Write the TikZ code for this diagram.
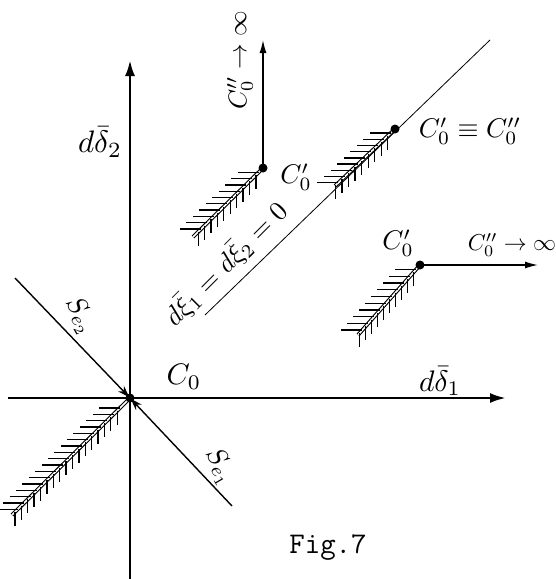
\documentclass[tikz,border=0pt]{standalone}
\usetikzlibrary{calc,arrows.meta}
\newcommand\hatchedline[3]{%
  \draw[bound] (#1) -- (#2);
  \foreach \s [evaluate=\s as \e using \s+4] in {#3} {
    \draw[hatchtick] ($(#1)!\s pt!(#2)$) -- ++(-21,0);
    \draw[hatchtick] ($(#1)!\e pt!(#2)$) -- ++(0,14);
  }%
}
\begin{document}
\begin{tikzpicture}[x=1pt,y=-1pt,
  axis/.style={line width=2.6pt,-{Latex[length=16pt,width=10pt]}},
  bound/.style={double, double distance=1.6pt, line width=1.1pt},
  hatchtick/.style={line width=1.3pt},
  ray/.style={line width=1.4pt,-{Latex[length=13pt,width=7pt]}},
  sline/.style={line width=1.4pt,-{Stealth[length=12pt,width=8pt]},shorten >=1pt},
  dot/.style={circle,fill,inner sep=0pt,minimum size=9pt},
  lbl/.style={scale=2.7, inner sep=0pt}]
\useasboundingbox[fill=white] (0,0) rectangle (556,579);
% key points
\coordinate (O) at (130,398);
\coordinate (xl) at (8,398);
\coordinate (xr) at (506,398);
\coordinate (yb) at (130,579);
\coordinate (yt) at (130,60);
\coordinate (C1) at (263,168);
\coordinate (C2) at (395,129);
\coordinate (C3) at (420,265);
\coordinate (H0) at (12,515);
\coordinate (H1) at (193,237);
\coordinate (H2) at (335,186);
\coordinate (H3) at (358,335);
\coordinate (D1) at (205,315);
\coordinate (D2) at (490,40);
\coordinate (C1t) at (263,40);
\coordinate (C3r) at (538,265);
\coordinate (S2) at (15,278);
\coordinate (S1) at (232,506);
% axes
\draw[axis] (xl) -- (xr);
\draw[axis] (yb) -- (yt);
% diagonal
\draw[line width=0.8pt] (D1) -- (D2);
% S lines
\draw[sline] (S2) -- (O);
\draw[sline] (S1) -- (O);
% hatched boundaries
\hatchedline{O}{H0}{14,23,...,158}
\hatchedline{C1}{H1}{6,15,...,92}
\hatchedline{C2}{H2}{6,15,...,78}
\hatchedline{C3}{H3}{6,15,...,90}
% rays
\draw[ray] (C1) -- (C1t);
\draw[ray] (C3) -- (C3r);
% dots
\node[dot] (o) at (O) {};
\node[dot] (c1) at (C1) {};
\node[dot] (c2) at (C2) {};
\node[dot] (c3) at (C3) {};
% labels
\node[lbl,scale=1.15] (ld2) at (100,142) {$d\bar\delta_2$};
\node[lbl,scale=1.1] (ld1) at (440,381) {$d\bar\delta_1$};
\node[lbl,scale=1.1] (lc0) at (184,377) {$C_0$};
\node[lbl] (lc1) at (296,177) {$C'_0$};
\node[lbl] (lc2) at (470,131) {$C'_0\equiv C''_0$};
\node[lbl] (lc3) at (398,243) {$C'_0$};
\node[lbl,scale=0.85] (lc4) at (512,245) {$C''_0\to\infty$};
\node[lbl,scale=0.95,rotate=90] (lc5) at (240,60) {$C''_0\to\infty$};
\node[lbl,rotate=45] (ldiag) at (226,264) {$d\bar\xi_1 = d\bar\xi_2 = 0$};
\node[lbl,rotate=-60] (lse2) at (80,316) {$S_{e_2}$};
\node[lbl,rotate=-60] (lse1) at (220,467) {$S_{e_1}$};
\node[font=\ttfamily\fontsize{30}{34}\selectfont, inner sep=0pt] (fig) at (328,548) {Fig.7};
\end{tikzpicture}
\end{document}
